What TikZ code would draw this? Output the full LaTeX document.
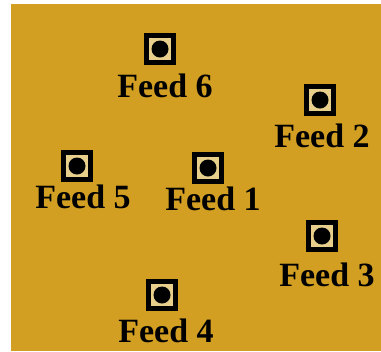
\documentclass[tikz,border=0pt]{standalone}
\usepackage{fontspec}
\setmainfont{Liberation Serif}
\usepackage{xcolor}
\definecolor{boardgold}{RGB}{210,159,34}
\definecolor{padlight}{RGB}{232,208,140}

\begin{document}
\begin{tikzpicture}[x=0.75pt,y=-0.75pt]
            \tikzset{
            feed pad/.style={rectangle,draw=black,line width=4.1pt,fill=padlight,minimum size=20pt,inner sep=0},
            feed pin/.style={circle,fill=black,minimum size=12.75pt,inner sep=0},
            feed label/.style={anchor=base,inner sep=0,font=\fontsize{25.5}{29}\selectfont\bfseries}
            }
            \useasboundingbox (0,0) rectangle (381,351);
            \fill[boardgold] (11,4) rectangle (381,351);

            \node[feed pad] (p1) at (208,168) {};
            \node[feed pad] (p2) at (320,100) {};
            \node[feed pad] (p3) at (322,236) {};
            \node[feed pad] (p4) at (162,295) {};
            \node[feed pad] (p5) at (77,166) {};
            \node[feed pad] (p6) at (160,49) {};
            \node[feed pin] (c1) at (p1) {};
            \node[feed pin] (c2) at (p2) {};
            \node[feed pin] (c3) at (p3) {};
            \node[feed pin] (c4) at (p4) {};
            \node[feed pin] (c5) at (p5) {};
            \node[feed pin] (c6) at (p6) {};

            \node[feed label] (l1) at (213,210) {Feed 1};
            \node[feed label] (l2) at (322,147) {Feed 2};
            \node[feed label] (l3) at (327,286) {Feed 3};
            \node[feed label] (l4) at (166,342) {Feed 4};
            \node[feed label] (l5) at (83,208) {Feed 5};
            \node[feed label] (l6) at (165,97) {Feed 6};
        \end{tikzpicture}
\end{document}
